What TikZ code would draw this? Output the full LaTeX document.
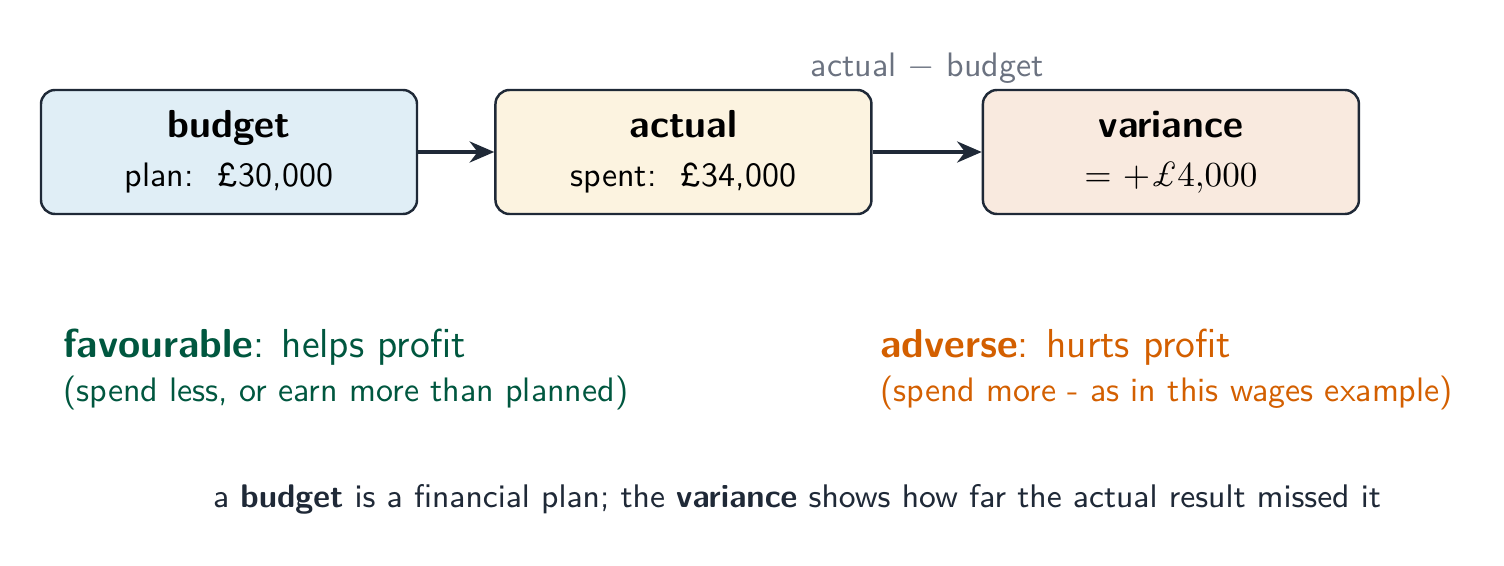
\documentclass[tikz,border=0pt]{standalone}
\usepackage{xcolor}
\usepackage{tikz}
\usetikzlibrary{arrows.meta, positioning}

\definecolor{inkdark}{HTML}{1F2937}
\definecolor{inkgray}{HTML}{6B7280}
\definecolor{favgreen}{HTML}{00573F}
\definecolor{advorange}{HTML}{D35F00}
\definecolor{budgetfill}{HTML}{E0EEF6}
\definecolor{actualfill}{HTML}{FCF3E0}
\definecolor{variancefill}{HTML}{F9EADF}

\newcommand{\titlefont}{\fontsize{11.1}{13}\selectfont\bfseries}
\newcommand{\subfont}{\fontsize{9.66}{12}\selectfont}

\begin{document}
\begin{tikzpicture}[
        font=\sffamily\subfont,
        node distance=0.76cm,
        stage/.style={rectangle, rounded corners=4pt, minimum width=3.76cm, minimum height=1.24cm, align=center, draw=inkdark, line width=0.7pt},
        lbl/.style={text=inkgray},
        note/.style={align=left, anchor=base west},
        arrow/.style={line width=1pt, draw=inkdark, -{Stealth[length=7pt, width=6pt]}}
    ]
    \useasboundingbox (0,0) rectangle (15.04,-5.66);

    % --- NODES ---
    \node (budget) [stage, fill=budgetfill] at (2.29,-1.52) {{\titlefont budget}\\[2pt] plan:\ \ £30,000};
    \node (actual) [stage, fill=actualfill, right=of budget] {{\titlefont actual}\\[2pt] spent:\ \ £34,000};
    \node (variance) [stage, fill=variancefill, right=1.09cm of actual] {{\titlefont variance}\\[2pt] $=$ $+\pounds4{,}000$};

    % favourable / adverse
    \node (fav) [note, text=favgreen] at (0.51,-3.57) {\fontsize{11.5}{14}\selectfont\textbf{favourable}: helps profit};
    \node (favnote) [note, text=favgreen] at (0.51,-4.01) {(spend less, or earn more than planned)};
    \node (adv) [note, text=advorange] at (8.68,-3.57) {\fontsize{11.5}{14}\selectfont\textbf{adverse}: hurts profit};
    \node (advnote) [note, text=advorange] at (8.68,-4.01) {(spend more - as in this wages example)};

    % footer
    \node (footer) [anchor=base, text=inkdark] at (7.97,-5.07) {\fontsize{9.3}{11}\selectfont a \textbf{budget} is a financial plan; the \textbf{variance} shows how far the actual result missed it};

    % --- ARROWS ---
    \draw [arrow] (budget) -- (actual);
    \draw [arrow] (actual) -- node[lbl, above=0.55cm] {actual $-$ budget} (variance);

    \end{tikzpicture}
\end{document}
